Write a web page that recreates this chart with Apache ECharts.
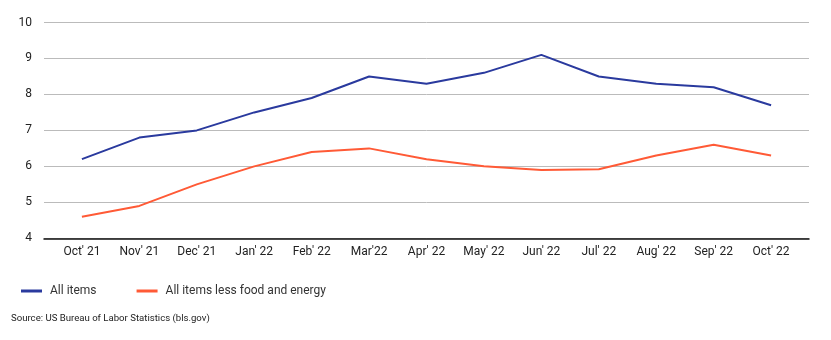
<!DOCTYPE html>
<html><head><meta charset="utf-8">
<script src="https://cdn.jsdelivr.net/npm/echarts@6/dist/echarts.min.js"></script>
<style>html,body{margin:0;padding:0;background:#fff}#c{width:831px;height:340px}</style>
</head><body><div id="c"></div>
<script>
const categories = ["Oct' 21","Nov' 21","Dec' 21","Jan' 22","Feb' 22","Mar'22","Apr' 22","May' 22","Jun' 22","Jul' 22","Aug' 22","Sep' 22","Oct' 22"];
const allItems = [6.2, 6.8, 7.0, 7.5, 7.9, 8.5, 8.3, 8.6, 9.1, 8.5, 8.3, 8.2, 7.7];
const coreItems = [4.6, 4.9, 5.5, 6.0, 6.4, 6.5, 6.2, 6.0, 5.9, 5.92, 6.3, 6.6, 6.3];
const yTicks = [4, 5, 6, 7, 8, 9, 10];
const seriesNames = ["All items", "All items less food and energy"];

const font = "Roboto, 'Noto Sans', sans-serif";
const chart = echarts.init(document.getElementById('c'), null, {renderer: 'canvas'});
const idx = categories.map((_, i) => i);
chart.setOption({
  animation: false,
  textStyle: {fontFamily: font},
  grid: {left: 44, right: 22, top: 22.5, bottom: 101.7},
  xAxis: {
    type: 'value', min: -0.66, max: 12.66,
    axisLine: {show: true, lineStyle: {color: '#111', width: 1.5}},
    axisTick: {show: false},
    splitLine: {show: false},
    axisLabel: {customValues: idx, formatter: v => categories[Math.round(v)] || '', color: '#222', fontSize: 12, margin: 8, fontFamily: font}
  },
  yAxis: {
    type: 'value', min: yTicks[0], max: yTicks[yTicks.length - 1], interval: 1,
    axisLine: {show: false}, axisTick: {show: false},
    axisLabel: {color: '#222', fontSize: 12, margin: 12, fontFamily: font, padding: [4, 0, 0, 0]},
    splitLine: {lineStyle: {color: '#bbbbbb', width: 1}}
  },
  legend: {
    left: 16, top: 280, itemWidth: 21, itemHeight: 3, itemGap: 40,
    icon: 'rect',
    textStyle: {color: '#333', fontSize: 12, fontFamily: font, padding: [0,0,0,3]},
    data: seriesNames
  },
  graphic: [{type: 'text', left: 11, top: 314, style: {text: 'Source: US Bureau of Labor Statistics (bls.gov)', fill: '#222', font: '9.6px ' + font}}],
  series: [
    {name: seriesNames[0], type: 'line', data: allItems.map((v, i) => [i, v]), showSymbol: false, symbol: 'none', lineStyle: {color: '#2a3a9e', width: 2}, itemStyle: {color: '#2a3a9e'}},
    {name: seriesNames[1], type: 'line', data: coreItems.map((v, i) => [i, v]), showSymbol: false, symbol: 'none', lineStyle: {color: '#ff5a36', width: 2}, itemStyle: {color: '#ff5a36'}}
  ]
});
</script></body></html>
